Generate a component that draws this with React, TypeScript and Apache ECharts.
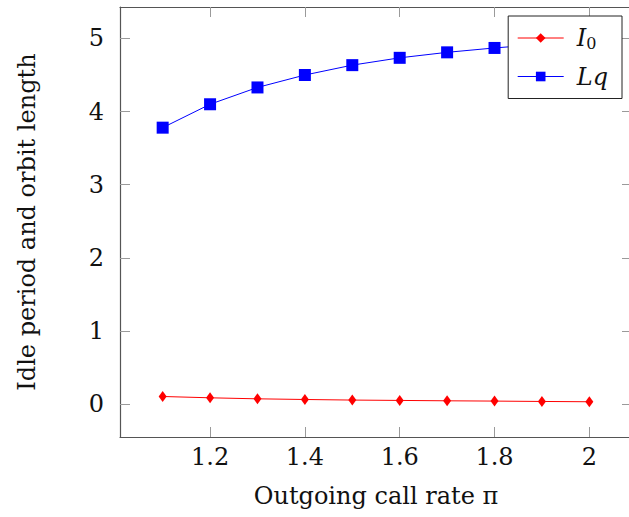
import React, { useEffect, useRef } from "react";
import * as echarts from "echarts";

const xValues = [1.1, 1.2, 1.3, 1.4, 1.5, 1.6, 1.7, 1.8, 1.9, 2.0];
const i0Values = [0.104, 0.086, 0.072, 0.063, 0.055, 0.05, 0.045, 0.041, 0.036, 0.032];
const lqValues = [3.78, 4.1, 4.33, 4.5, 4.635, 4.735, 4.81, 4.87, 4.92, 4.96];
const xTicks = [1.2, 1.4, 1.6, 1.8, 2.0];
const yTicks = [0, 1, 2, 3, 4, 5];

const FONT = "'DejaVu Serif', 'Liberation Serif', serif";
const FS = 24;

export default function App() {
  const ref = useRef<HTMLDivElement>(null);
  useEffect(() => {
    if (!ref.current) return;
    const chart = echarts.init(ref.current, undefined, { renderer: "svg" });
    const axisLine = { show: true, onZero: false, lineStyle: { color: "#555", width: 1.2 } };
    const tick = (vals: number[]) => ({
      show: true,
      inside: true,
      length: 10,
      customValues: vals,
      lineStyle: { color: "#9a9a9a", width: 1 },
    });
    chart.setOption({
      animation: false,
      backgroundColor: "#fff",
      grid: { left: 120, top: 7, right: -3, bottom: 80, containLabel: false, outerBoundsMode: "none" },
      legend: {
        right: 7,
        top: 16,
        orient: "vertical",
        backgroundColor: "#fff",
        borderColor: "#222",
        borderWidth: 1,
        borderRadius: 0,
        padding: [10, 14, 10, 9],
        itemGap: 13,
        itemWidth: 46,
        itemHeight: 12,
        lineStyle: { width: 1 },
        data: ["I0", "Lq"],
        formatter: (name: string) =>
          name === "I0" ? "{i|I}{s|0}" : "{i|Lq}",
        textStyle: {
          fontFamily: FONT,
          color: "#111",
          padding: [0, 0, 0, 8],
          rich: {
            i: { fontFamily: FONT, fontStyle: "italic", fontSize: FS, color: "#111" },
            s: { fontFamily: FONT, fontSize: 16, color: "#111", padding: [11, 0, 0, 0] },
          },
        },
      },
      xAxis: [
        {
          type: "value",
          min: 1.01,
          max: 2.09,
          name: "Outgoing call rate π",
          nameLocation: "middle",
          nameGap: 47,
          nameTextStyle: { fontFamily: FONT, fontSize: FS, color: "#111" },
          axisLine,
          axisTick: tick(xTicks),
          splitLine: { show: false },
          axisLabel: {
            customValues: xTicks,
            fontFamily: FONT,
            fontSize: FS,
            color: "#111",
            margin: 8,
          },
        },
        {
          type: "value",
          position: "top",
          min: 1.01,
          max: 2.09,
          axisLine,
          axisTick: tick(xTicks),
          splitLine: { show: false },
          axisLabel: { show: false },
        },
      ],
      yAxis: [
        {
          type: "value",
          min: -0.45,
          max: 5.43,
          name: "Idle period and orbit length",
          nameLocation: "middle",
          nameGap: 81,
          nameTextStyle: { fontFamily: FONT, fontSize: FS, color: "#111" },
          axisLine,
          axisTick: tick(yTicks),
          splitLine: { show: false },
          axisLabel: {
            customValues: yTicks,
            fontFamily: FONT,
            fontSize: FS,
            color: "#111",
            margin: 16,
          },
        },
        {
          type: "value",
          position: "right",
          min: -0.45,
          max: 5.43,
          axisLine,
          axisTick: tick(yTicks),
          splitLine: { show: false },
          axisLabel: { show: false },
        },
      ],
      series: [
        {
          name: "I0",
          type: "line",
          data: xValues.map((x, i) => [x, i0Values[i]]),
          symbol: "diamond",
          symbolSize: [8, 11],
          lineStyle: { color: "#ff0000", width: 1 },
          itemStyle: { color: "#ff0000" },
        },
        {
          name: "Lq",
          type: "line",
          data: xValues.map((x, i) => [x, lqValues[i]]),
          symbol: "rect",
          symbolSize: 12,
          lineStyle: { color: "#0000ff", width: 1 },
          itemStyle: { color: "#0000ff" },
        },
      ],
    });
    return () => chart.dispose();
  }, []);
  return <div ref={ref} style={{ width: 629, height: 517, position: "absolute", left: 0, top: 0 }} />;
}
